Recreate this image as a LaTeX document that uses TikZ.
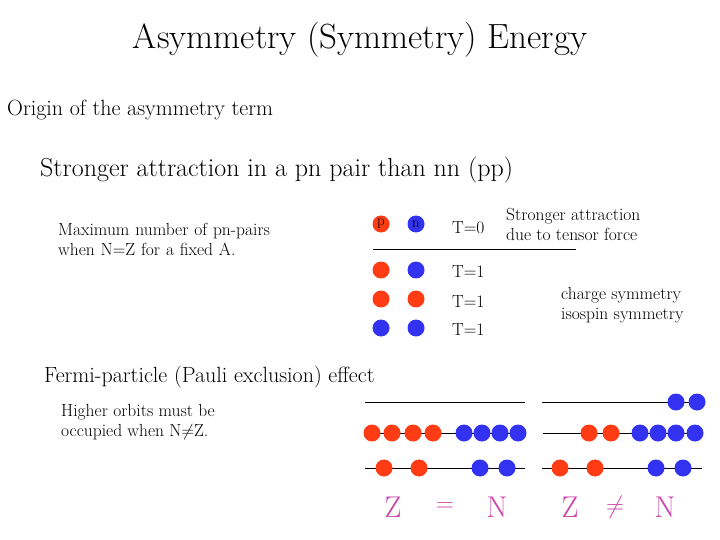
\documentclass[tikz,border=0pt]{standalone}
\usepackage{amssymb}
\begin{document}
\begin{tikzpicture}[x=1pt,y=-1pt,
  pr/.style={circle,fill=pred,inner sep=0pt,minimum size=17pt},
  nt/.style={circle,fill=nblue,inner sep=0pt,minimum size=17pt},
  lbl/.style={anchor=west,inner sep=0pt,font=\fontsize{17.5}{20}\selectfont,align=left},
  big/.style={inner sep=0pt,text=zcol,font=\fontsize{30}{32}\selectfont},
  lvl/.style={line width=0.8pt}]
\definecolor{pred}{RGB}{255,60,20}
\definecolor{nblue}{RGB}{50,50,240}
\definecolor{zcol}{RGB}{204,68,170}
\useasboundingbox[fill=white] (0,0) rectangle (720,540);
\node[inner sep=0pt,font=\fontsize{35}{38}\selectfont] (title) at (360,40) {Asymmetry (Symmetry) Energy};
\node[lbl,font=\fontsize{22}{24}\selectfont] (origin) at (7,110) {Origin of the asymmetry term};
\node[lbl,font=\fontsize{26}{28}\selectfont] (strong) at (40,170) {Stronger attraction in a pn pair than nn (pp)};
\node[lbl,text width=250pt] (max) at (58,239) {Maximum number of pn-pairs\\when N=Z for a fixed A.};
\node[pr,font=\fontsize{15}{15}\selectfont] (p0) at (381,224) {p};
\node[nt,font=\fontsize{15}{15}\selectfont] (n0) at (416,224) {n};
\node[lbl] (t0) at (452,228) {T=0};
\node[lbl] (tensor) at (506,224) {Stronger attraction\\due to tensor force};
\coordinate (la) at (373,249); \coordinate (lb) at (576,249);
\draw[lvl] (la) -- (lb);
\node[pr] (a1) at (381,270) {}; \node[nt] (b1) at (416,270) {};
\node[pr] (a2) at (381,299) {}; \node[pr] (b2) at (416,299) {};
\node[nt] (a3) at (381,328) {}; \node[nt] (b3) at (416,328) {};
\node[lbl] (t1) at (452,272) {T=1};
\node[lbl] (t2) at (452,302) {T=1};
\node[lbl] (t3) at (452,330) {T=1};
\node[lbl] (charge) at (561,305) {charge symmetry\\isospin symmetry};
\node[lbl,font=\fontsize{22}{24}\selectfont] (fermi) at (44,377) {Fermi-particle (Pauli exclusion) effect};
\node[lbl] (higher) at (61,422) {Higher orbits must be\\occupied when N$\neq$Z.};
% left levels
\coordinate (L1a) at (365,402); \coordinate (L1b) at (525,402);
\coordinate (L2a) at (365,433); \coordinate (L2b) at (525,433);
\coordinate (L3a) at (365,468); \coordinate (L3b) at (525,468);
\draw[lvl] (L1a)--(L1b); \draw[lvl] (L2a)--(L2b); \draw[lvl] (L3a)--(L3b);
\foreach \x [count=\i] in {372,392,413,433} \node[pr] (lp\i) at (\x,433) {};
\foreach \x [count=\i] in {464,482,500,518} \node[nt] (ln\i) at (\x,433) {};
\node[pr] (lq1) at (384,468) {}; \node[pr] (lq2) at (419,468) {};
\node[nt] (lm1) at (480,468) {}; \node[nt] (lm2) at (507,468) {};
% right levels
\coordinate (R1a) at (542,402); \coordinate (R1b) at (705,402);
\coordinate (R2a) at (543,433); \coordinate (R2b) at (703,433);
\coordinate (R3a) at (542,468); \coordinate (R3b) at (702,468);
\draw[lvl] (R1a)--(R1b); \draw[lvl] (R2a)--(R2b); \draw[lvl] (R3a)--(R3b);
\node[nt] (rt1) at (676,402) {}; \node[nt] (rt2) at (697,402) {};
\node[pr] (rp1) at (589,433) {}; \node[pr] (rp2) at (611,433) {};
\foreach \x [count=\i] in {640,658,676,695} \node[nt] (rn\i) at (\x,433) {};
\node[pr] (rq1) at (560,468) {}; \node[pr] (rq2) at (595,468) {};
\node[nt] (rm1) at (656,468) {}; \node[nt] (rm2) at (683,468) {};
\node[big] (z1) at (393,507) {Z};
\node[big] (eq) at (445,507) {$=$};
\node[big] (n1) at (497,507) {N};
\node[big] (z2) at (570,507) {Z};
\node[big] (ne) at (615,507) {$\neq$};
\node[big] (n2) at (665,507) {N};
\end{tikzpicture}
\end{document}
